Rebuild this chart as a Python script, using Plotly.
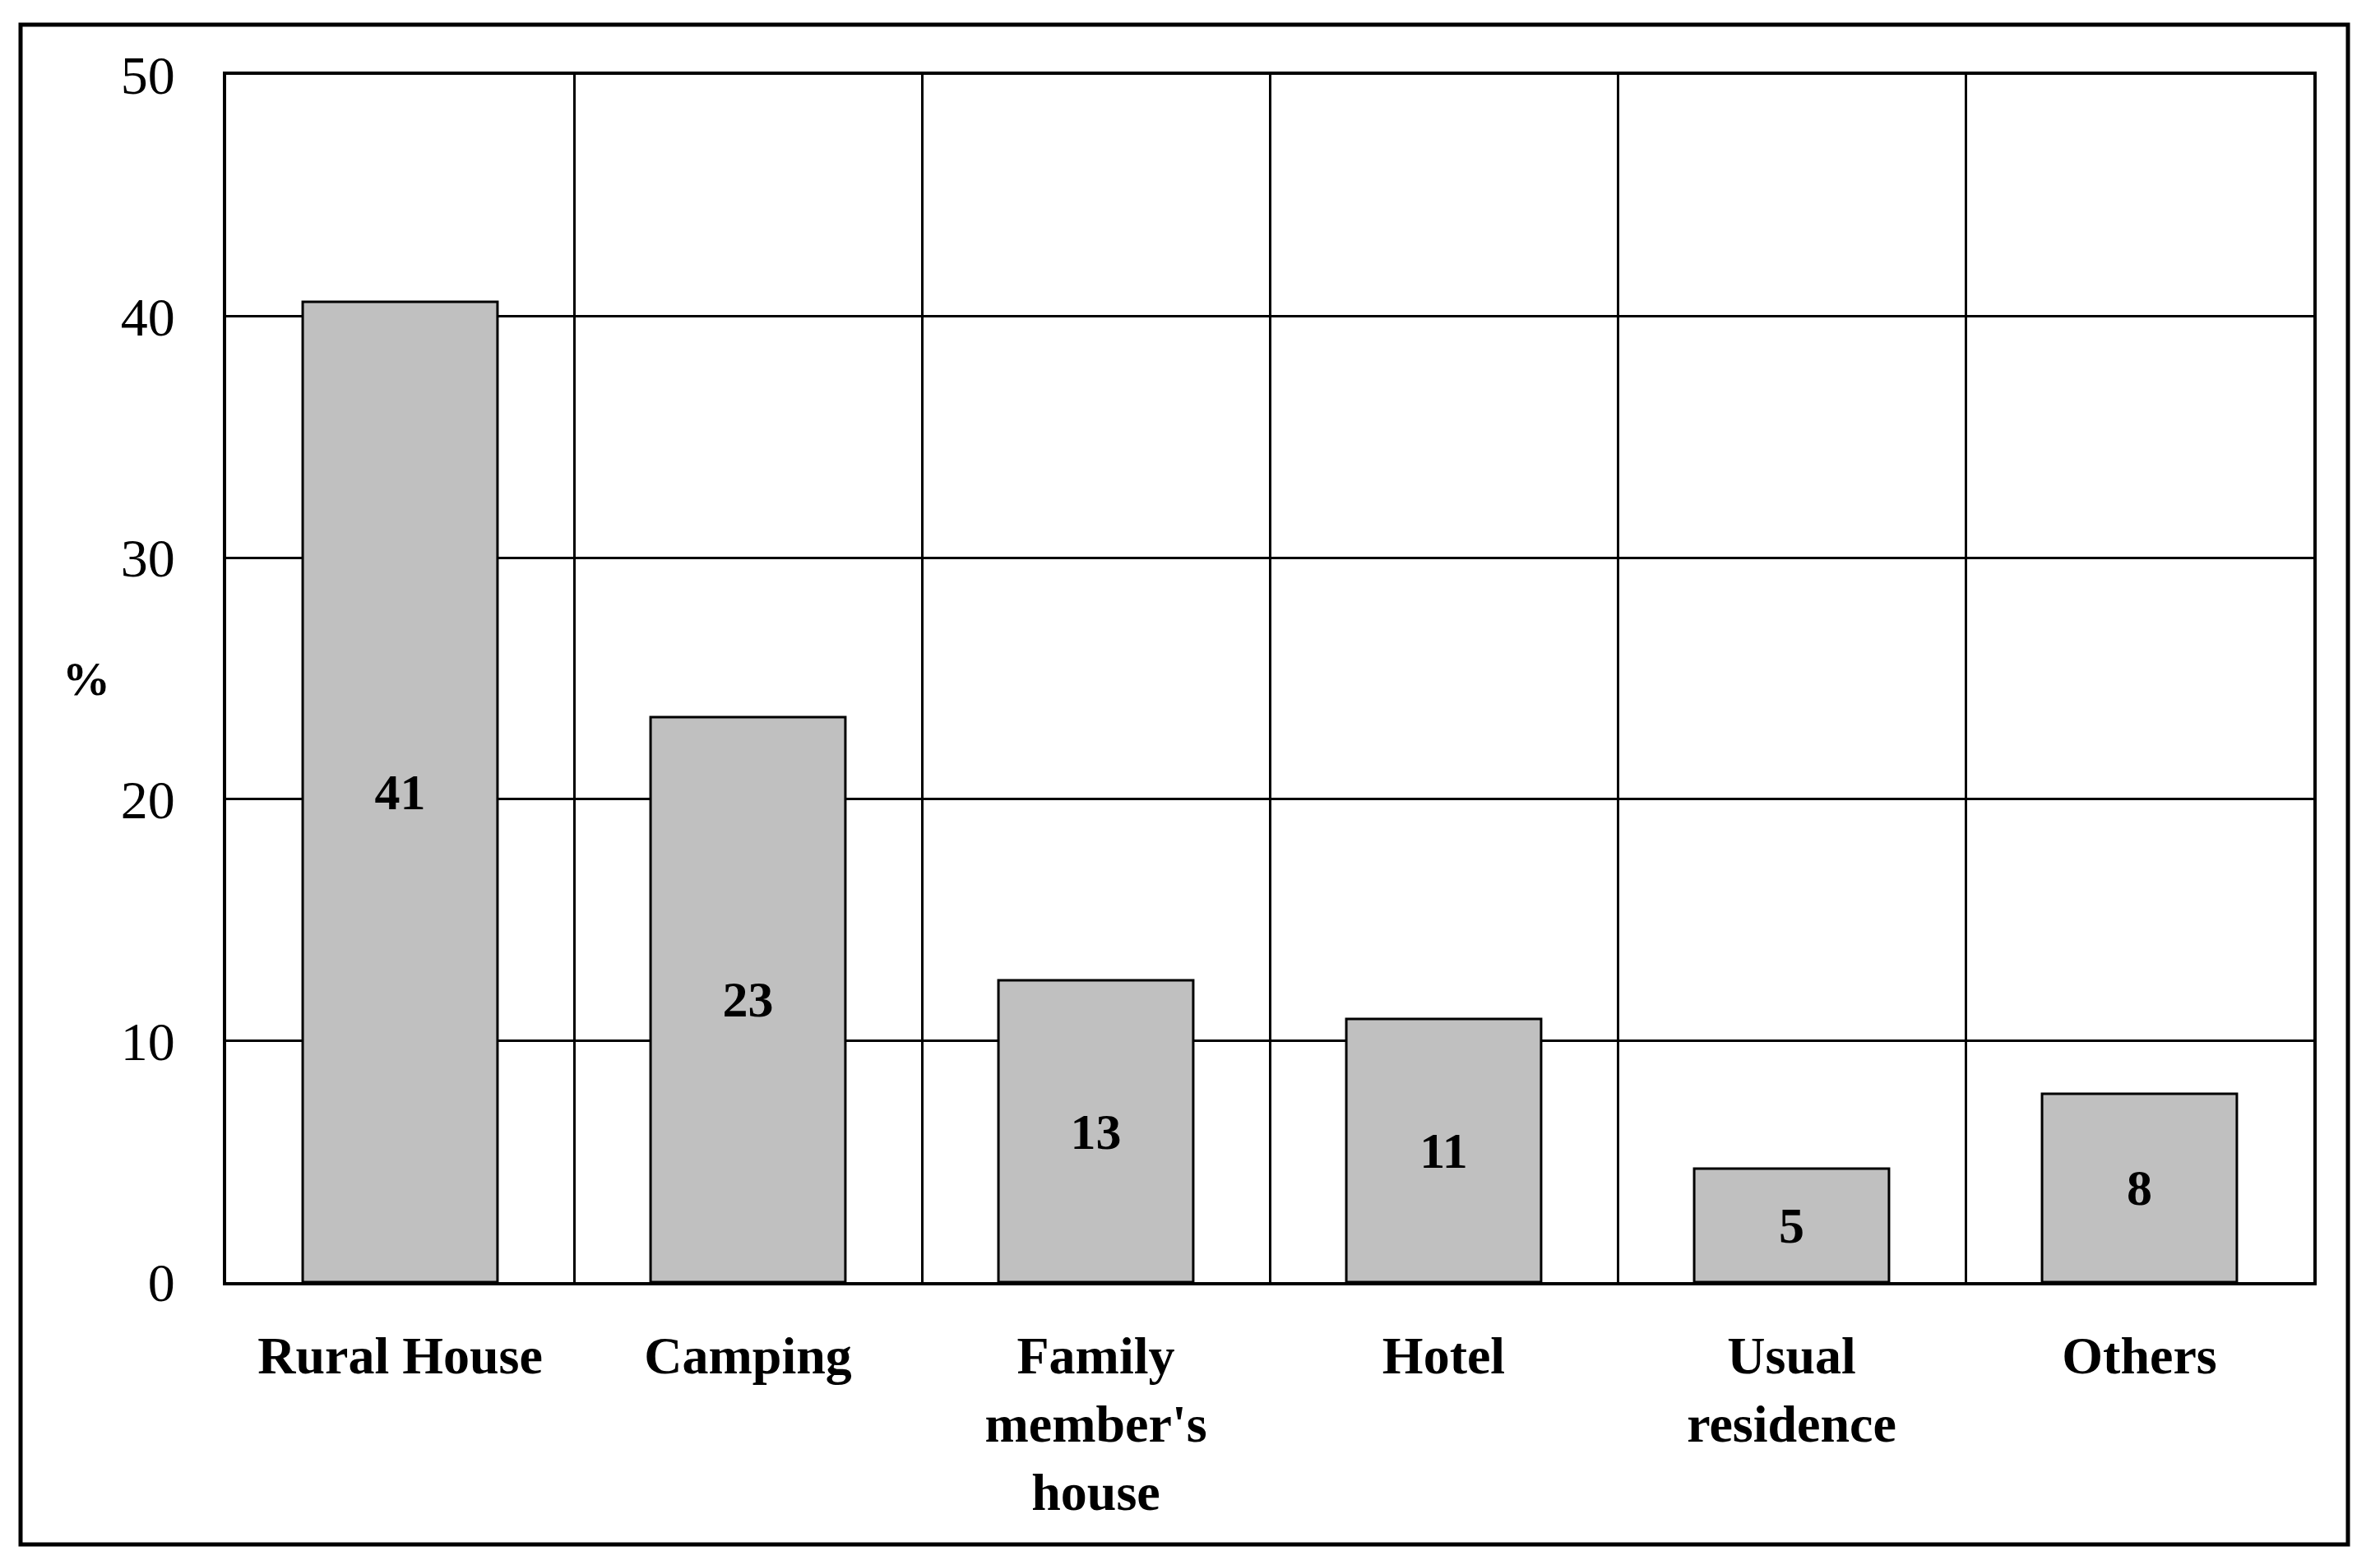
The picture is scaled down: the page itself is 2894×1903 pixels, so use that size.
import plotly.graph_objects as go

categories = ["Rural House", "Camping", "Family<br>member's<br>house", "Hotel", "Usual<br>residence", "Others"]
values = [40.6, 23.4, 12.5, 10.9, 4.7, 7.8]
labels = ["41", "23", "13", "11", "5", "8"]
y_ticks = [0, 10, 20, 30, 40, 50]

OFF = 8  # page body margin
W, H = 2894 - 2 * OFF, 1903 - 2 * OFF
L, R, T, B = 275 - OFF, 2813 - OFF, 91 - OFF, 1559 - OFF

fig = go.Figure()
fig.add_trace(go.Bar(
    x=categories, y=values, text=labels,
    textposition="inside", insidetextanchor="middle",
    textfont=dict(family="Liberation Serif", size=62, color="black", weight="bold"),
    marker=dict(color="#C0C0C0", line=dict(color="black", width=3)),
    width=0.56, showlegend=False, hoverinfo="skip",
))

fig.update_layout(
    width=W, height=H,
    margin=dict(l=L, r=W - R, t=T, b=H - B),
    paper_bgcolor="white", plot_bgcolor="white",
    font=dict(family="Liberation Serif", color="black"),
    xaxis=dict(
        type="category", tickson="boundaries", showgrid=True,
        gridcolor="black", gridwidth=3,
        showline=True, linecolor="black", linewidth=4, mirror=True,
        ticks="", ticklabelstandoff=30,
        tickfont=dict(family="Liberation Serif", size=64, color="black", weight="bold"),
    ),
    yaxis=dict(
        range=[0, 50], tickvals=y_ticks, ticktext=[str(v) for v in y_ticks],
        showgrid=True, gridcolor="black", gridwidth=3,
        zeroline=False,
        showline=True, linecolor="black", linewidth=4, mirror=True,
        ticks="", ticklabelstandoff=45,
        tickfont=dict(family="Liberation Serif", size=66, color="black"),
    ),
    shapes=[dict(
        type="rect", xref="paper", yref="paper",
        x0=(25 - OFF - L) / (R - L), x1=(2855 - OFF - L) / (R - L),
        y0=(B - (1878 - OFF)) / (B - T), y1=(B - (30 - OFF)) / (B - T),
        line=dict(color="black", width=5), fillcolor="rgba(0,0,0,0)", layer="below",
    )],
    annotations=[dict(
        text="%", xref="paper", yref="paper",
        x=(105 - OFF - L) / (R - L), y=0.5, xanchor="center", yanchor="middle",
        showarrow=False,
        font=dict(family="Liberation Serif", size=58, color="black", weight="bold"),
    )],
)

fig.write_html("out.html")
